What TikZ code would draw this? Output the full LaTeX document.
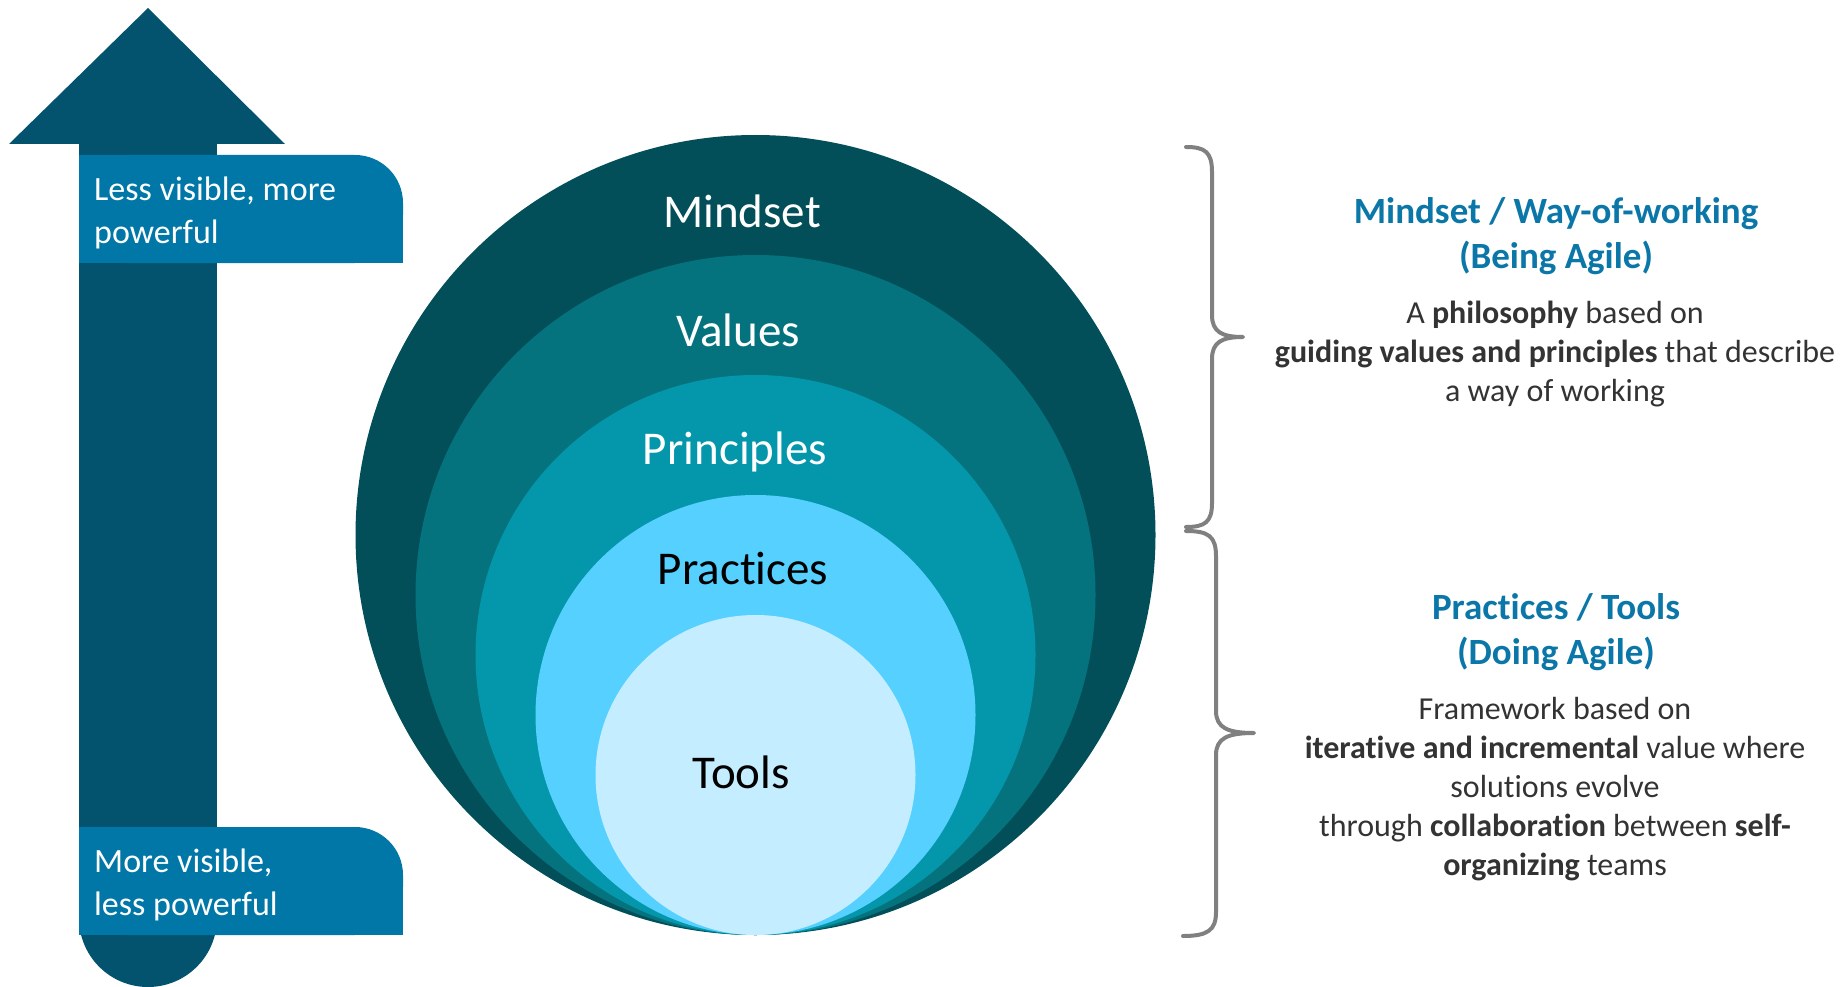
\documentclass[tikz,border=0pt]{standalone}
\usepackage{fontspec}
\setmainfont{Carlito}[Ligatures=NoCommon]
\definecolor{arrowc}{HTML}{03536E}
\definecolor{boxc}{HTML}{0177A8}
\definecolor{cmind}{HTML}{024F5A}
\definecolor{cval}{HTML}{04737E}
\definecolor{cprin}{HTML}{0497AB}
\definecolor{cprac}{HTML}{55D0FF}
\definecolor{ctool}{HTML}{C4EDFF}
\definecolor{headc}{HTML}{0B77A8}
\definecolor{bodyc}{HTML}{333333}
\definecolor{bracec}{HTML}{808080}
\begin{document}
\begin{tikzpicture}[x=1pt,y=-1pt,
  ringlabel/.style={inner sep=0pt,font=\fontsize{47}{56}\selectfont},
  boxtext/.style={anchor=west,inner sep=0pt,align=left,text=white,font=\fontsize{34}{42.5}\selectfont},
  headtext/.style={inner sep=0pt,align=center,text=headc,font=\bfseries\fontsize{37}{45}\selectfont},
  bodytext/.style={inner sep=0pt,align=center,text=bodyc,font=\fontsize{32}{38.8}\selectfont},
  bracepath/.style={draw=bracec,line width=4pt,line cap=round,line join=round}]
\useasboundingbox (0,0) rectangle (1841,987);
% arrow
\fill[arrowc] (148,8) -- (285,144) -- (9,144) -- cycle;
\fill[arrowc] (79,143) rectangle (217,918);
\fill[arrowc] (148,918) circle[radius=69pt];
% label boxes
\fill[boxc,rounded corners=48pt] (79,155) rectangle (403,263);
\fill[boxc] (79,155) rectangle (360,263);
\fill[boxc] (79,210) rectangle (403,263);
\fill[boxc,rounded corners=48pt] (79,827) rectangle (403,935);
\fill[boxc] (79,827) rectangle (360,935);
\fill[boxc] (79,882) rectangle (403,935);
\node[boxtext] (lessvis) at (94,213) {Less visible, more\\powerful};
\node[boxtext] (morevis) at (94,885) {More visible,\\less powerful};
% circles
\fill[cmind] (755.5,535) circle[radius=400pt];
\fill[cval] (755.5,595) circle[radius=340pt];
\fill[cprin] (755.5,655) circle[radius=280pt];
\fill[cprac] (755.5,715) circle[radius=220pt];
\fill[ctool] (755.5,775) circle[radius=160pt];
\node[ringlabel,text=white] (mindset) at (742,211) {Mindset};
\node[ringlabel,text=white] (values) at (738,330) {Values};
\node[ringlabel,text=white] (principles) at (735,452) {Principles};
\node[ringlabel,text=black] (practices) at (743,568) {Practices};
\node[ringlabel,text=black] (tools) at (741,772) {Tools};
% braces
\draw[bracepath] (1186,147) .. controls (1205,147) and (1212,152) .. (1212,172) -- (1212,315) .. controls (1212,332) and (1222,337) .. (1243,337) .. controls (1222,337) and (1212,342) .. (1212,359) -- (1212,503) .. controls (1212,522) and (1205,527) .. (1186,527);
\draw[bracepath] (1186,531) .. controls (1208,531) and (1216,536) .. (1216,556) -- (1216,711) .. controls (1216,728) and (1228,733) .. (1254,733) .. controls (1228,733) and (1216,738) .. (1216,755) -- (1216,912) .. controls (1216,930) and (1208,936) .. (1183,936);
% right texts
\node[headtext] (head1) at (1556,236.5) {Mindset / Way-of-working\\(Being Agile)};
\node[bodytext] (body1) at (1555,354) {A \textbf{philosophy} based on\\\textbf{guiding values and principles} that describe\\a way of working};
\node[headtext] (head2) at (1556,632) {Practices / Tools\\(Doing Agile)};
\node[bodytext] (body2) at (1555,789) {Framework based on\\\textbf{iterative and incremental} value where\\solutions evolve\\through \textbf{collaboration} between \textbf{self-}\\\textbf{organizing} teams};
\end{tikzpicture}
\end{document}
